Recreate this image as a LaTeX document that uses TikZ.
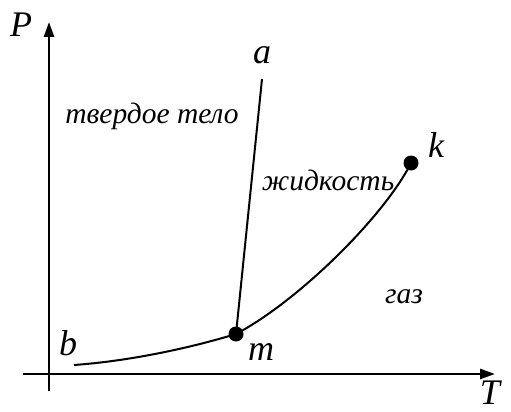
\documentclass[tikz,border=0pt]{standalone}
\usepackage{fontspec}
\setmainfont{Liberation Serif}
\usetikzlibrary{arrows.meta}
\begin{document}
\begin{tikzpicture}[x=1pt,y=-1pt,
  axis/.style={line width=2.6pt,-{Triangle[length=15pt,width=10pt]}},
  curve/.style={line width=2pt},
  dot/.style={circle,fill=black,inner sep=0pt,minimum size=15pt},
  lbl/.style={font=\fontsize{36}{36}\selectfont\itshape,inner sep=0pt},
  reg/.style={font=\fontsize{29.5}{29.5}\selectfont\itshape,inner sep=0pt}]
\useasboundingbox (0,0) rectangle (511,412);
% axes
\coordinate (ybot) at (49,391);
\coordinate (ytop) at (49,22);
\coordinate (xleft) at (23,374);
\coordinate (xright) at (495,374);
\draw[axis] (ybot) -- (ytop);
\draw[axis] (xleft) -- (xright);
\node[lbl] (P) at (21,25) {P};
\node[lbl] (T) at (490,393) {T};
% points
\coordinate (b) at (74,365);
\coordinate (a) at (262,79);
\node[dot] (m) at (236,334) {};
\node[dot] (k) at (411,163) {};
% curves
\draw[curve] (b) .. controls (130,361) and (190,348) .. (m.center);
\draw[curve] (m.center) .. controls (300,300) and (385,215) .. (k.center);
\draw[curve] (m.center) -- (a);
% labels
\node[lbl] (la) at (262,55) {a};
\node[lbl] (lk) at (436,145) {k};
\node[lbl] (lb) at (68,343) {b};
\node[lbl] (lm) at (261,352) {m};
\node[reg] (solid) at (152,116) {твердое тело};
\node[reg] (liquid) at (328,180) {жидкость};
\node[reg] (gas) at (404,297) {газ};
\end{tikzpicture}
\end{document}
